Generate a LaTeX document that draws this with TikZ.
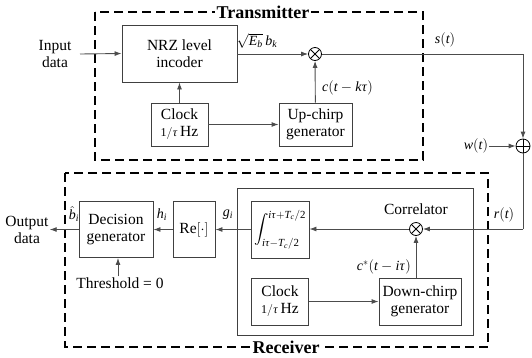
\documentclass[tikz,border=0pt]{standalone}
\usepackage{amsmath}
\usepackage{mathspec}
\setmainfont{Liberation Serif}
\setmathsfont(Digits,Latin,Greek){Liberation Serif}
\usetikzlibrary{arrows.meta}
\definecolor{LinkInk}{gray}{0.30}
\definecolor{BlockInk}{gray}{0.25}
\tikzset{
    link/diagram/.style={
        x=1pt, y=-1pt,
        font=\fontsize{15.5}{17}\selectfont,
        line cap=butt, line join=miter,
        every node/.style={inner sep=1pt}
    },
    link/block/.style={
        draw=BlockInk, line width=0.9pt, align=center, inner sep=1pt
    },
    link/frame/.style={draw=black, line width=2pt, dash pattern=on 9pt off 5pt},
    link/panel/.style={draw=BlockInk, line width=0.9pt},
    link/signal/.style={
        draw=LinkInk, line width=0.9pt,
        -{Latex[length=7pt, width=5pt]}
    },
    link/wire/.style={draw=LinkInk, line width=0.9pt},
    link/title/.style={fill=white, font=\fontsize{18}{19}\selectfont\bfseries, inner sep=2pt},
    link/label/.style={font=\fontsize{14}{15}\selectfont},
    link/mixer/.style={
        circle, draw=black, line width=0.8pt, minimum size=13pt, inner sep=0pt,
        path picture={
            \draw[line width=0.8pt] (path picture bounding box.north west)
                -- (path picture bounding box.south east)
                (path picture bounding box.north east)
                -- (path picture bounding box.south west);
        }
    },
    link/adder/.style={
        circle, draw=black, line width=0.8pt, minimum size=14pt, inner sep=0pt,
        path picture={
            \draw[line width=0.8pt] (path picture bounding box.north)
                -- (path picture bounding box.south)
                (path picture bounding box.east)
                -- (path picture bounding box.west);
        }
    }
}

\begin{document}
\begin{tikzpicture}[link/diagram]
    \useasboundingbox (0,0) rectangle (532,357);
    % transmitter and receiver frames
    \draw[link/frame] (95,12) rectangle (423,160);
    \draw[link/frame] (65,173) rectangle (488,347);
    \draw[link/panel] (237,188) rectangle (473,335);
    \node[link/title] (txtitle) at (263,12) {Transmitter};
    \node[link/title] (rxtitle) at (286,347) {Receiver};

    % transmitter blocks
    \node[link/block, minimum width=115pt, minimum height=57pt] (nrz) at (179.5,53.5)
        {NRZ level\\incoder};
    \node[link/block, minimum width=57pt, minimum height=43pt] (txclock) at (179.5,124.5)
        {Clock\\{\fontsize{12}{13}\selectfont$1/\tau$}\,Hz};
    \node[link/block, minimum width=73pt, minimum height=43pt] (upchirp) at (315.5,124.5)
        {Up-chirp\\generator};
    \node[link/mixer] (txmix) at (315,54) {};
    \node[align=center] (input) at (55,54) {Input\\data};

    \coordinate (inputend) at (80,54);
    \draw[link/signal] (inputend) -- (nrz.west);
    \draw[link/signal] (txclock) -- (nrz);
    \draw[link/signal] (txclock) -- (upchirp);
    \draw[link/signal] (nrz.east |- txmix) -- (txmix);
    \draw[link/signal] (upchirp) -- (txmix);
    \node[link/label, anchor=south] (amp) at (257,50) {$\sqrt{E_b}\,b_k$};
    \node[link/label, anchor=west] (chirp) at (321,88) {$c(t-k\tau)$};

    % channel
    \node[link/adder] (sum) at (523,146) {};
    \node[link/label] (noise) at (476,146) {$w(t)$};
    \coordinate (bend) at (523,54);
    \draw[link/wire] (txmix) -- (bend);
    \draw[link/signal] (bend) -- (sum);
    \draw[link/signal] (noise) -- (sum);
    \node[link/label] (sig) at (445,40) {$s(t)$};
    \node[link/label] (rcv) at (504,215) {$r(t)$};

    % receiver blocks
    \node[link/mixer] (rxmix) at (416,229) {};
    \node[link/block, minimum width=58pt, minimum height=57pt] (integ) at (280,229.5)
        {$\displaystyle\int_{i\tau-T_c/2}^{i\tau+T_c/2}$};
    \node[link/block, minimum width=57pt, minimum height=47pt] (rxclock) at (280,301.5)
        {Clock\\{\fontsize{12}{13}\selectfont$1/\tau$}\,Hz};
    \node[link/block, minimum width=82pt, minimum height=47pt] (downchirp) at (420,301.5)
        {Down-chirp\\generator};
    \node[link/block, minimum width=42pt, minimum height=56pt] (real) at (194,229.5)
        {Re$[\cdot]$};
    \node[link/block, minimum width=74pt, minimum height=56pt] (decide) at (116,229.5)
        {Decision\\generator};
    \node (corr) at (416,209) {Correlator};
    \node (thresh) at (120,283) {Threshold = 0};
    \node[align=center] (output) at (27,229.5) {Output\\data};
    \coordinate (drop) at (523,229);

    \draw[link/wire] (sum) -- (drop);
    \draw[link/signal] (drop) -- (rxmix);
    \draw[link/signal] (rxmix) -- (integ.east |- rxmix);
    \draw[link/signal] (rxclock) -- (downchirp);
    \draw[link/signal] (downchirp.north -| rxmix) -- (rxmix);
    \draw[link/signal] (integ) -- (real);
    \draw[link/signal] (real) -- (decide);
    \draw[link/signal] (decide.west) -- (output.east);
    \draw[link/signal] (thresh.north -| 118,0) -- (decide.south -| 118,0);
    \node[link/label, anchor=east] (conj) at (412,267) {$c^{*}(t-i\tau)$};
    \node[link/label] (gi) at (228,215) {$g_i$};
    \node[link/label] (hi) at (162,215) {$h_i$};
    \node[link/label] (bi) at (74,214) {$\hat{b}_i$};
\end{tikzpicture}
\end{document}
